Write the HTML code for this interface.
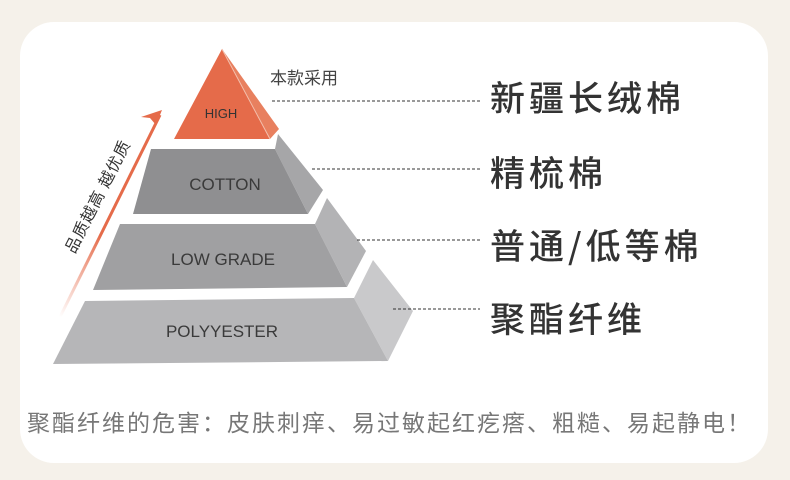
<!DOCTYPE html>
<html><head><meta charset="utf-8"><style>
html,body{margin:0;padding:0;width:790px;height:480px;background:#f5f1ea;overflow:hidden}
.card{position:absolute;left:20px;top:22px;width:748px;height:441px;background:#fff;border-radius:34px}
svg{position:absolute;left:0;top:0}
.lbl{position:absolute;left:490px;font-family:"Noto Sans CJK SC","Liberation Sans",sans-serif;font-size:35px;font-weight:500;color:#333;letter-spacing:4px;line-height:40px;white-space:nowrap}
.bot{position:absolute;left:27px;top:408px;font-family:"Liberation Sans","Noto Sans CJK SC",sans-serif;font-size:23px;color:#777;letter-spacing:2px;white-space:nowrap;line-height:30px}
</style></head><body>
<div class="card"></div>
<svg width="790" height="480" viewBox="0 0 790 480">
<defs><linearGradient id="g" x1="60" y1="317" x2="162" y2="111" gradientUnits="userSpaceOnUse">
<stop offset="0" stop-color="#e56b4a" stop-opacity="0"/><stop offset="0.4" stop-color="#e56b4a"/><stop offset="1" stop-color="#e56b4a"/></linearGradient></defs>
<polygon points="222,49 279,129 270,139" fill="#e8805f"/>
<polygon points="222,49 270,139 174,139" fill="#e56b4a"/>
<line x1="222" y1="49" x2="270" y2="139" stroke="#f3c0ae" stroke-width="1"/>
<polygon points="278,134 323,190 308,214 275,149" fill="#a6a6a8"/>
<polygon points="151,149 275,149 308,214 133,214" fill="#8f8f91"/>
<polygon points="327,198 366,251 347,287 315,224" fill="#b3b3b5"/>
<polygon points="120,224 315,224 347,287 93,290" fill="#a0a0a2"/>
<polygon points="373,260 413,311 388,361 354,298" fill="#c9c9cb"/>
<polygon points="85,301 354,298 388,361 53,364" fill="#b6b6b8"/>
<g font-family="Liberation Sans, sans-serif" fill="#333" text-anchor="middle">
<text x="221" y="118" font-size="13">HIGH</text>
<text x="225" y="190" font-size="17" fill="#3a3a3a">COTTON</text>
<text x="223" y="265" font-size="17" fill="#3a3a3a">LOW GRADE</text>
<text x="222" y="337" font-size="17" fill="#3a3a3a">POLYYESTER</text>
</g>
<text x="270" y="84" font-family="Liberation Sans, Noto Sans CJK SC, sans-serif" font-size="17" fill="#444">本款采用</text>
<line x1="60" y1="317" x2="160" y2="115" stroke="url(#g)" stroke-width="3"/>
<polygon points="162,110 141,117 150,118 156,125" fill="#e56b4a"/>
<text transform="translate(99,197) rotate(-63)" text-anchor="middle" dominant-baseline="middle" font-family="Liberation Sans, Noto Sans CJK SC, sans-serif" font-size="16" letter-spacing="1" fill="#333">品质越高 越优质</text>
<g stroke="#333" stroke-width="1" stroke-dasharray="3,2">
<line x1="272" y1="101" x2="480" y2="101"/>
<line x1="312" y1="169" x2="480" y2="169"/>
<line x1="357" y1="240" x2="480" y2="240"/>
<line x1="393" y1="309" x2="480" y2="309"/>
</g>
</svg>
<div class="lbl" style="top:77px">新疆长绒棉</div>
<div class="lbl" style="top:152px">精梳棉</div>
<div class="lbl" style="top:225px">普通/低等棉</div>
<div class="lbl" style="top:298px">聚酯纤维</div>
<div class="bot">聚酯纤维的危害：皮肤刺痒、易过敏起红疙瘩、粗糙、易起静电！</div>
</body></html>
